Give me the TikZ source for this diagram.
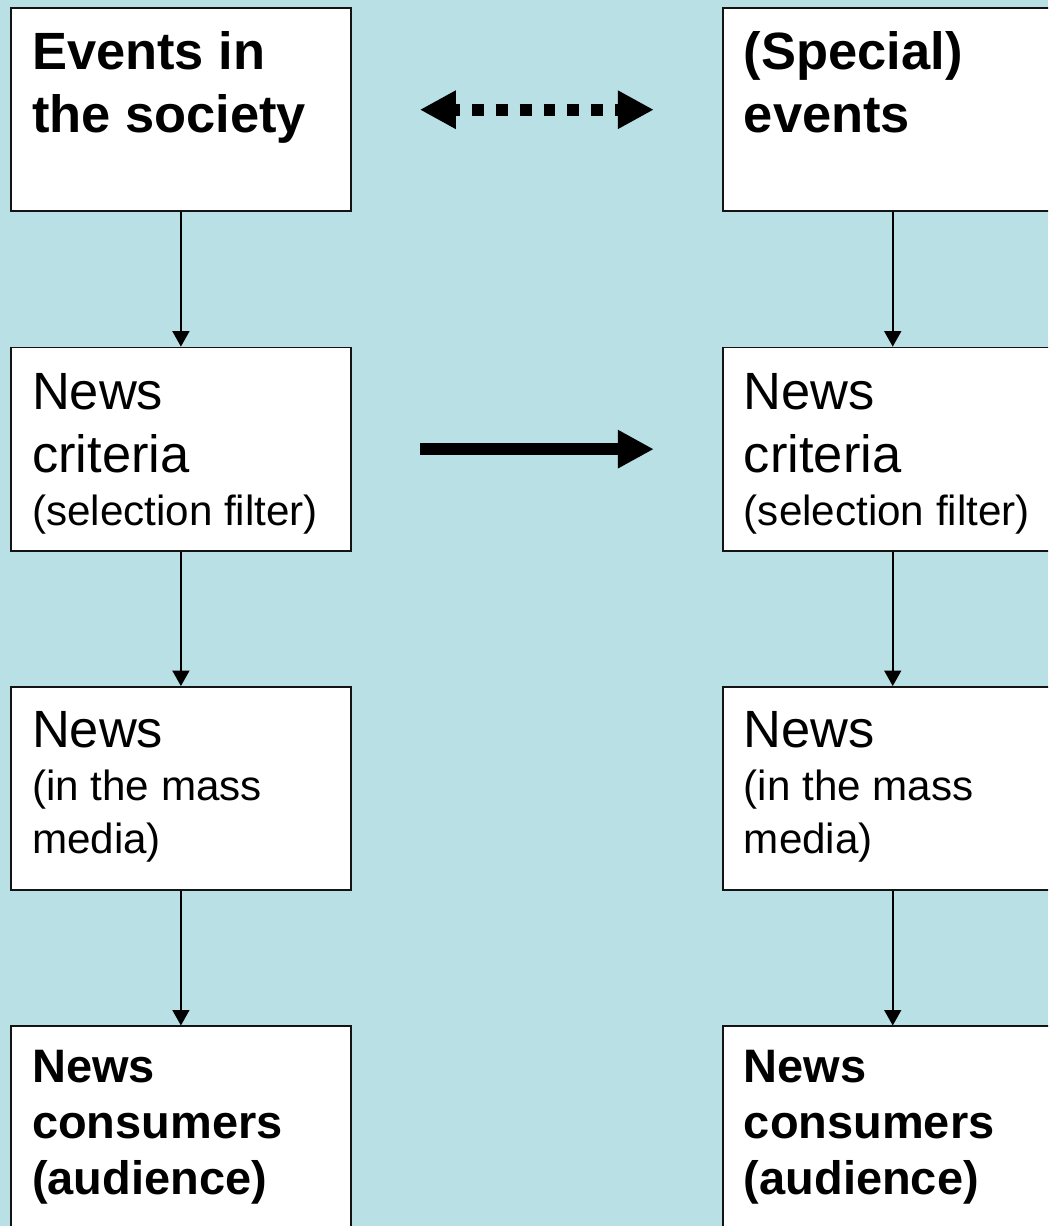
\documentclass[tikz,border=0pt]{standalone}
\usepackage{fontspec}
\setmainfont{Liberation Sans}
\usepackage{tikz}
\usetikzlibrary{arrows.meta, positioning}
\definecolor{bgblue}{RGB}{185,224,228}
\definecolor{boxline}{RGB}{20,20,20}

\newcommand{\bigfont}{\fontsize{37.3}{44.8}\selectfont}
\newcommand{\smallfont}{\fontsize{30}{37.7}\selectfont}
\newcommand{\audfont}{\fontsize{33.4}{40}\selectfont\bfseries}
\newcommand{\cell}[2][1.54cm]{\parbox[c][5.08cm][t]{8.5cm}{\raggedright\leftskip=0.53cm\rule{0pt}{#1}#2}}

\begin{document}
\begin{tikzpicture}[
    box/.style={draw=boxline, fill=white, line width=1.3pt, inner sep=0pt},
    flow/.style={line width=1.3pt, -{Triangle[width=12pt,length=11pt]}},
    wide/.style={line width=8.5pt, shorten <=1.7cm, shorten >=1.7cm}
  ]
    \useasboundingbox (0,0) rectangle (26.2,-30.65);
    \clip (0,0) rectangle (26.2,-30.65);
    \fill[bgblue] (0,0) rectangle (26.2,-30.65);

    % left column
    \node[box, anchor=north west] (evl) at (0.25,-0.18) {\cell{\bigfont\bfseries Events in\par the society\par}};
    \node[box, below=3.36cm of evl] (critl) {\cell{\bigfont News\par criteria\par\smallfont (selection filter)\par}};
    \node[box, below=3.36cm of critl] (newsl) {\cell[1.52cm]{\bigfont News\par\smallfont (in the mass\par media)\par}};
    \node[box, below=3.36cm of newsl] (audl) {\cell[1.4cm]{\audfont News\par consumers\par (audience)\par}};

    % right column
    \node[box, right=9.25cm of evl] (evr) {\cell{\bigfont\bfseries (Special)\par events\par}};
    \node[box, below=3.36cm of evr] (critr) {\cell{\bigfont News\par criteria\par\smallfont (selection filter)\par}};
    \node[box, below=3.36cm of critr] (newsr) {\cell[1.52cm]{\bigfont News\par\smallfont (in the mass\par media)\par}};
    \node[box, below=3.36cm of newsr] (audr) {\cell[1.4cm]{\audfont News\par consumers\par (audience)\par}};

    \draw[flow] (evl) -- (critl);
    \draw[flow] (critl) -- (newsl);
    \draw[flow] (newsl) -- (audl);
    \draw[flow] (evr) -- (critr);
    \draw[flow] (critr) -- (newsr);
    \draw[flow] (newsr) -- (audr);

    \draw[wide, dash pattern=on 8.5pt off 8.5pt, dash phase=4pt,
          {Triangle[width=25.6pt,length=25.6pt]}-{Triangle[width=25.6pt,length=25.6pt]}] (evl.east) -- (evr.west);
    \draw[wide, -{Triangle[width=25.6pt,length=25.6pt]}] (critl.east) -- (critr.west);
\end{tikzpicture}
\end{document}
